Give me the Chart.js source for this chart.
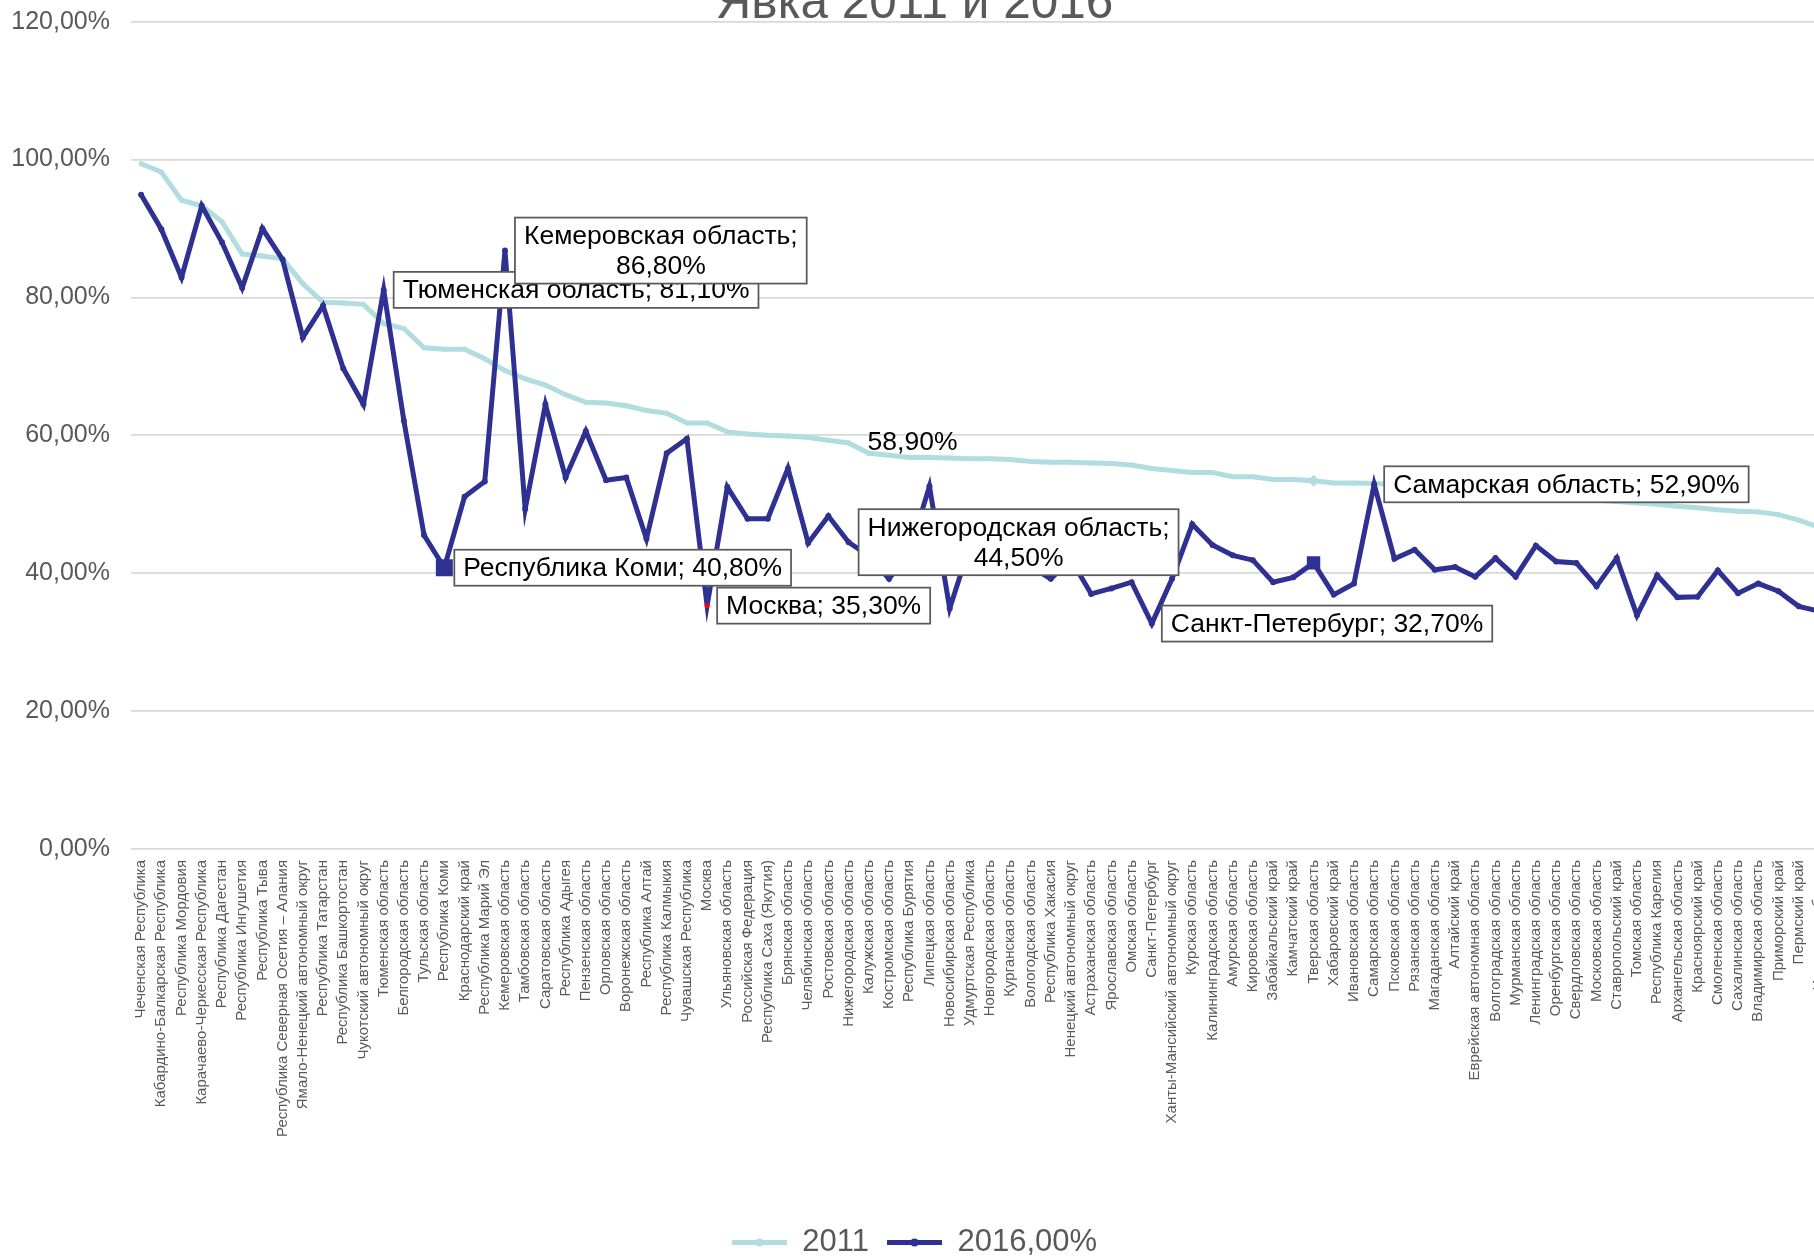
<!DOCTYPE html>
<html lang="ru">
<head>
<meta charset="utf-8">
<title>Явка 2011 и 2016</title>
<script src="https://cdn.jsdelivr.net/npm/chart.js@4.4.1/dist/chart.umd.min.js"></script>
<style>
  html, body { margin: 0; padding: 0; background: #fff; overflow: hidden; width: 1814px; height: 1257px; }
  #wrap { position: absolute; left: 0; top: -50px; width: 1838px; height: 1318px; }
</style>
</head>
<body>
<div id="wrap"><canvas id="chart" width="1838" height="1318"></canvas></div>
<script>
// Регионы, отсортированные по явке 2011
const regions = [
    'Чеченская Республика', 'Кабардино-Балкарская Республика', 'Республика Мордовия',
    'Карачаево-Черкесская Республика', 'Республика Дагестан', 'Республика Ингушетия',
    'Республика Тыва', 'Республика Северная Осетия – Алания', 'Ямало-Ненецкий автономный округ',
    'Республика Татарстан', 'Республика Башкортостан', 'Чукотский автономный округ',
    'Тюменская область', 'Белгородская область', 'Тульская область', 'Республика Коми',
    'Краснодарский край', 'Республика Марий Эл', 'Кемеровская область', 'Тамбовская область',
    'Саратовская область', 'Республика Адыгея', 'Пензенская область', 'Орловская область',
    'Воронежская область', 'Республика Алтай', 'Республика Калмыкия', 'Чувашская Республика',
    'Москва', 'Ульяновская область', 'Российская Федерация', 'Республика Саха (Якутия)',
    'Брянская область', 'Челябинская область', 'Ростовская область', 'Нижегородская область',
    'Калужская область', 'Костромская область', 'Республика Бурятия', 'Липецкая область',
    'Новосибирская область', 'Удмуртская Республика', 'Новгородская область', 'Курганская область',
    'Вологодская область', 'Республика Хакасия', 'Ненецкий автономный округ', 'Астраханская область',
    'Ярославская область', 'Омская область', 'Санкт-Петербург', 'Ханты-Мансийский автономный округ',
    'Курская область', 'Калининградская область', 'Амурская область', 'Кировская область',
    'Забайкальский край', 'Камчатский край', 'Тверская область', 'Хабаровский край',
    'Ивановская область', 'Самарская область', 'Псковская область', 'Рязанская область',
    'Магаданская область', 'Алтайский край', 'Еврейская автономная область', 'Волгоградская область',
    'Мурманская область', 'Ленинградская область', 'Оренбургская область', 'Свердловская область',
    'Московская область', 'Ставропольский край', 'Томская область', 'Республика Карелия',
    'Архангельская область', 'Красноярский край', 'Смоленская область', 'Сахалинская область',
    'Владимирская область', 'Приморский край', 'Пермский край', 'Иркутская область'
];

// Явка, %
const turnout2011 = [
    99.4, 98.2, 94.1, 93.3, 91.0, 86.3, 86.0, 85.6, 82.0, 79.3, 79.2, 79.0,
    76.2, 75.5, 72.7, 72.5, 72.5, 71.1, 69.4, 68.2, 67.3, 65.9, 64.8, 64.7,
    64.3, 63.6, 63.2, 61.8, 61.8, 60.5, 60.2, 60.0, 59.9, 59.7, 59.3, 58.9,
    57.4, 57.1, 56.8, 56.8, 56.7, 56.6, 56.6, 56.5, 56.2, 56.1, 56.1, 56.0,
    55.9, 55.7, 55.2, 54.9, 54.6, 54.6, 54.0, 54.0, 53.6, 53.6, 53.4, 53.1,
    53.1, 53.0, 52.9, 52.7, 52.5, 52.3, 52.0, 51.8, 51.6, 51.3, 51.1, 50.9,
    50.6, 50.4, 50.2, 50.0, 49.7, 49.5, 49.2, 49.0, 48.9, 48.5, 47.7, 46.7
];
const turnout2016 = [
    94.9, 89.9, 82.9, 93.3, 88.0, 81.4, 90.0, 85.5, 74.2, 78.8, 69.7, 64.5,
    81.1, 62.1, 45.5, 40.8, 51.1, 53.3, 86.8, 49.3, 64.5, 53.9, 60.6, 53.5,
    53.9, 45.0, 57.4, 59.5, 35.3, 52.5, 47.9, 47.9, 55.2, 44.4, 48.3, 44.5,
    42.5, 39.2, 43.0, 52.6, 34.9, 44.0, 41.5, 44.8, 41.0, 39.2, 42.0, 37.0,
    37.8, 38.7, 32.7, 39.2, 47.1, 44.1, 42.6, 41.9, 38.7, 39.4, 41.5, 36.9,
    38.5, 52.9, 42.1, 43.4, 40.5, 40.9, 39.5, 42.2, 39.5, 44.0, 41.7, 41.5,
    38.1, 42.2, 33.9, 39.7, 36.5, 36.6, 40.4, 37.1, 38.5, 37.4, 35.2, 34.5
];

const yTicks = [0, 20, 40, 60, 80, 100, 120];
const seriesNames = ['2011', '2016,00%'];

// Подписи данных (серия, индекс точки, строки)
const callouts = [
    { series: 1, index: 12, lines: ['Тюменская область; 81,10%'], box: true },
    { series: 1, index: 15, lines: ['Республика Коми; 40,80%'], box: true },
    { series: 1, index: 18, lines: ['Кемеровская область;', '86,80%'], box: true },
    { series: 1, index: 28, lines: ['Москва; 35,30%'], box: true },
    { series: 0, index: 35, lines: ['58,90%'], box: false },
    { series: 1, index: 35, lines: ['Нижегородская область;', '44,50%'], box: true },
    { series: 1, index: 50, lines: ['Санкт-Петербург; 32,70%'], box: true },
    { series: 1, index: 61, lines: ['Самарская область; 52,90%'], box: true }
];

const TEAL = '#b2dde0';
const NAVY = '#2e3192';
const FONT = '"Liberation Sans", Arial, sans-serif';

// маркеры отдельных точек
function styleArray(n, base, special) {
    const arr = new Array(n).fill(base);
    Object.keys(special).forEach(k => { arr[k] = special[k]; });
    return arr;
}
const n = regions.length;

const calloutPlugin = {
    id: 'callouts',
    afterDatasetsDraw(chart) {
        const ctx = chart.ctx;
        ctx.save();
        ctx.font = '26.5px ' + FONT;
        ctx.textBaseline = 'middle';
        callouts.forEach(c => {
            const pt = chart.getDatasetMeta(c.series).data[c.index];
            const lineH = 30;
            if (!c.box) {
                ctx.fillStyle = '#000';
                ctx.textAlign = 'left';
                ctx.fillText(c.lines[0], pt.x + 19, pt.y);
                return;
            }
            const w = Math.max(...c.lines.map(l => ctx.measureText(l).width));
            const bw = w + 18;
            const bh = c.lines.length * lineH + 6;
            const bx = pt.x + 10;
            const by = pt.y - bh / 2;
            ctx.fillStyle = '#fff';
            ctx.fillRect(bx, by, bw, bh);
            ctx.strokeStyle = '#595959';
            ctx.lineWidth = 1.75;
            ctx.strokeRect(bx, by, bw, bh);
            ctx.fillStyle = '#000';
            ctx.textAlign = 'center';
            c.lines.forEach((l, i) => {
                ctx.fillText(l, bx + bw / 2, by + 3 + lineH * i + lineH / 2 + 1);
            });
        });
        ctx.restore();
    },
    afterDraw(chart) {
        // точка-маркер посередине образца линии в легенде
        const ctx = chart.ctx;
        const boxes = chart.legend.legendHitBoxes;
        const cols = [TEAL, NAVY];
        ctx.save();
        boxes.forEach((b, i) => {
            ctx.fillStyle = cols[i];
            ctx.beginPath();
            ctx.arc(b.left + 27.5, b.top + 15.5, 4, 0, Math.PI * 2);
            ctx.fill();
        });
        ctx.restore();
    }
};

new Chart(document.getElementById('chart').getContext('2d'), {
    type: 'line',
    data: {
        labels: regions,
        datasets: [
            {
                label: seriesNames[0],
                data: turnout2011,
                borderColor: TEAL,
                backgroundColor: TEAL,
                borderWidth: 5,
                pointRadius: styleArray(n, 2.5, { 58: 6 }),
                pointStyle: styleArray(n, 'circle', { 58: 'rectRot' }),
                pointBackgroundColor: TEAL,
                pointBorderWidth: 0,
                tension: 0,
                order: 2
            },
            {
                label: seriesNames[1],
                data: turnout2016,
                borderColor: NAVY,
                backgroundColor: NAVY,
                borderWidth: 5,
                pointRadius: styleArray(n, 3, { 15: 12, 28: 2.5, 58: 9.5 }),
                pointStyle: styleArray(n, 'circle', { 15: 'rect', 58: 'rect' }),
                pointBackgroundColor: styleArray(n, NAVY, { 28: '#ff0000' }),
                pointBorderWidth: 0,
                tension: 0,
                order: 1
            }
        ]
    },
    options: {
        responsive: false,
        animation: false,
        layout: { padding: { top: 39, right: 9, left: 0, bottom: 0 } },
        plugins: {
            tooltip: { enabled: false },
            title: {
                display: true,
                text: 'Явка 2011 и 2016',
                color: '#595959',
                font: { family: FONT, size: 49.5, lineHeight: 0.6, weight: 'normal' },
                padding: { top: 0, bottom: 3 }
            },
            legend: {
                position: 'bottom',
                labels: {
                    color: '#595959',
                    font: { family: FONT, size: 31 },
                    boxWidth: 55,
                    boxHeight: 5,
                    padding: 18,
                    sort: (a, b) => a.datasetIndex - b.datasetIndex,
                    generateLabels: chart => Chart.defaults.plugins.legend.labels.generateLabels(chart)
                        .map(l => Object.assign(l, { lineWidth: 0 }))
                }
            }
        },
        scales: {
            x: {
                offset: true,
                grid: { display: false },
                border: { display: false },
                ticks: {
                    autoSkip: false,
                    maxRotation: 90,
                    minRotation: 90,
                    padding: 3,
                    color: '#595959',
                    font: { family: FONT, size: 15 }
                },
                afterFit: scale => {
                    scale.height = 360;
                    scale.paddingLeft = 0;
                    scale.paddingRight = 0;
                }
            },
            y: {
                min: 0,
                max: 120,
                grid: { color: '#d9d9d9', lineWidth: 1.75, drawTicks: false },
                border: { display: false },
                afterBuildTicks: scale => { scale.ticks = yTicks.map(v => ({ value: v })); },
                ticks: {
                    padding: 21,
                    color: '#595959',
                    font: { family: FONT, size: 25 },
                    callback: v => v.toFixed(2).replace('.', ',') + '%'
                },
                afterFit: scale => { scale.width = 131; }
            }
        }
    },
    plugins: [calloutPlugin]
});
</script>
</body>
</html>
